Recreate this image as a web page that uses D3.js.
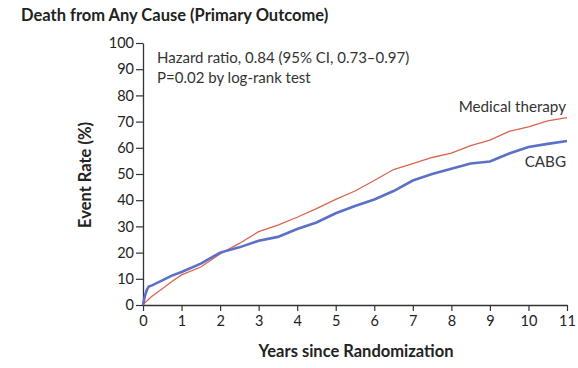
<!DOCTYPE html>
<html>
<head>
<meta charset="utf-8">
<script src="https://cdn.jsdelivr.net/npm/d3@7"></script>
<style>
  body { margin: 0; background: #fff; }
  svg { display: block; font-family: Lato, "Open Sans", sans-serif; }
</style>
</head>
<body>
<svg id="chart" width="578" height="368"></svg>
<script>
// data (years, event rate %)
const years = [0, 0.05, 0.1, 0.15, 0.25, 0.5, 0.75, 1, 1.5, 2, 2.5, 3, 3.5, 4, 4.5, 5, 5.5, 6, 6.5, 7, 7.5, 8, 8.5, 9, 9.5, 10, 10.5, 11];
const medical = [0, 0.8, 1.5, 2.3, 3.5, 6.2, 9, 11.5, 14.5, 19.5, 23.5, 28, 30.5, 33.5, 36.8, 40.3, 43.5, 47.5, 51.7, 54, 56.3, 58, 60.8, 62.9, 66.3, 68, 70.3, 71.5];
const cabg = [0, 3.5, 5.8, 7, 7.6, 9.4, 11.2, 12.6, 15.8, 20, 22, 24.5, 26, 29, 31.5, 35, 37.8, 40.3, 43.5, 47.5, 50, 52, 54, 54.8, 57.8, 60.3, 61.5, 62.6];
const xTicks = d3.range(0, 12);
const yTicks = d3.range(0, 101, 10);

const svg = d3.select("#chart");
const x = d3.scaleLinear().domain([0, 11]).range([143, 567]);
const y = d3.scaleLinear().domain([0, 100]).range([305, 43]);

// title
svg.append("text")
  .attr("x", 21).attr("y", 21)
  .attr("font-size", 16.5).attr("font-weight", "bold").attr("fill", "#222")
  .text("Death from Any Cause (Primary Outcome)");

// y axis
const yAxis = svg.append("g")
  .attr("transform", `translate(${x(0)},0)`)
  .call(d3.axisLeft(y).tickValues(yTicks).tickSize(7).tickPadding(2).tickSizeOuter(0));
// x axis
const xAxis = svg.append("g")
  .attr("transform", `translate(0,${y(0)})`)
  .call(d3.axisBottom(x).tickValues(xTicks).tickSize(6).tickPadding(5).tickSizeOuter(0));

[yAxis, xAxis].forEach(g => {
  g.selectAll(".domain").attr("stroke", "#333").attr("stroke-width", 1.3);
  g.selectAll(".tick line").attr("stroke", "#333").attr("stroke-width", 1.2);
  g.selectAll(".tick text").attr("font-size", 14.5).attr("fill", "#222")
    .attr("font-family", "Lato, sans-serif");
});

// axis titles
svg.append("text")
  .attr("x", 356).attr("y", 357).attr("text-anchor", "middle")
  .attr("font-size", 16.5).attr("font-weight", "bold").attr("fill", "#222")
  .text("Years since Randomization");
svg.append("text")
  .attr("transform", "translate(91,175) rotate(-90)")
  .attr("text-anchor", "middle")
  .attr("font-size", 16.5).attr("font-weight", "bold").attr("fill", "#222")
  .text("Event Rate (%)");

// curves
const line = d3.line().x(d => x(d[0])).y(d => y(d[1]));
svg.append("path")
  .datum(years.map((t, i) => [t, medical[i]]))
  .attr("d", line).attr("fill", "none")
  .attr("stroke", "#d9654f").attr("stroke-width", 1.3);
svg.append("path")
  .datum(years.map((t, i) => [t, cabg[i]]))
  .attr("d", line).attr("fill", "none")
  .attr("stroke", "#5b70c6").attr("stroke-width", 2.6);

// annotation
const note = svg.append("text").attr("font-size", 15).attr("fill", "#333");
note.append("tspan").attr("x", 157).attr("y", 63).text("Hazard ratio, 0.84 (95% CI, 0.73–0.97)");
note.append("tspan").attr("x", 157).attr("y", 83).text("P=0.02 by log-rank test");

// series labels
svg.append("text")
  .attr("x", 566).attr("y", 112).attr("text-anchor", "end")
  .attr("font-size", 15.2).attr("fill", "#333").text("Medical therapy");
svg.append("text")
  .attr("x", 566).attr("y", 167).attr("text-anchor", "end")
  .attr("font-size", 15.2).attr("fill", "#333").text("CABG");
</script>
</body>
</html>
